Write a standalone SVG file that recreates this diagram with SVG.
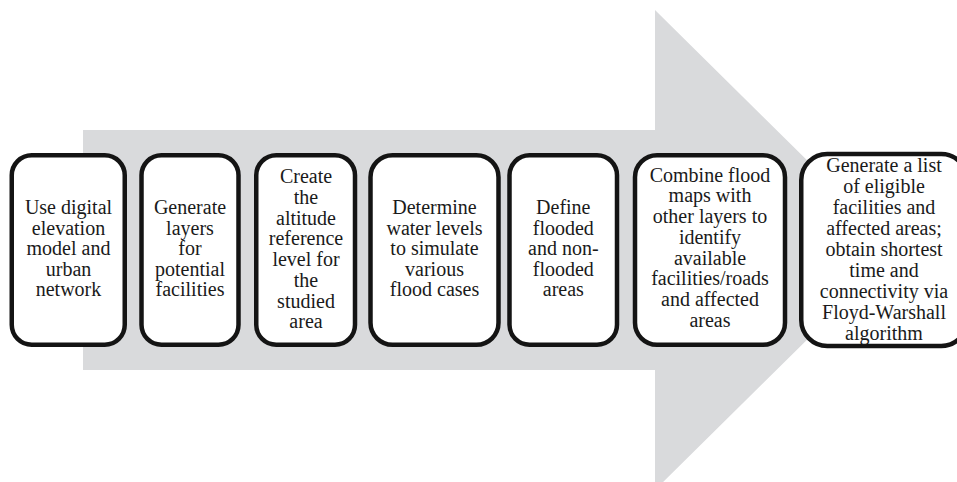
<svg xmlns="http://www.w3.org/2000/svg" width="957" height="482" viewBox="0 0 957 482">
<style>
.box{fill:#ffffff;stroke:#141414;stroke-width:4.5}
.t{font-family:"Liberation Serif","Times New Roman",serif;font-size:20px;fill:#1a1a1a;text-anchor:middle}
</style>
<rect width="957" height="482" fill="#ffffff"/>
<g id="arrow">
<polygon points="83,130 655,130 655,10 898,250 655,490 655,370 83,370" fill="#d9dadc"/>
</g>
<g id="connectors"></g>
<g id="n1">
<rect class="box" x="11.75" y="155.25" width="113" height="189.5" rx="20"/>
<text class="t" x="68.5" y="214">Use digital<tspan x="68.5" dy="20.6">elevation</tspan><tspan x="68.5" dy="20.6">model and</tspan><tspan x="68.5" dy="20.6">urban</tspan><tspan x="68.5" dy="20.6">network</tspan></text>
</g>
<g id="n2">
<rect class="box" x="141.5" y="155.25" width="97" height="189.5" rx="20"/>
<text class="t" x="190" y="214">Generate<tspan x="190" dy="20.6">layers</tspan><tspan x="190" dy="20.6">for</tspan><tspan x="190" dy="20.6">potential</tspan><tspan x="190" dy="20.6">facilities</tspan></text>
</g>
<g id="n3">
<rect class="box" x="256.25" y="155.25" width="98.75" height="189.5" rx="20"/>
<text class="t" x="306" y="183.3">Create<tspan x="306" dy="20.7">the</tspan><tspan x="306" dy="20.7">altitude</tspan><tspan x="306" dy="20.7">reference</tspan><tspan x="306" dy="20.7">level for</tspan><tspan x="306" dy="20.7">the</tspan><tspan x="306" dy="20.7">studied</tspan><tspan x="306" dy="20.7">area</tspan></text>
</g>
<g id="n4">
<rect class="box" x="370.5" y="155.25" width="128" height="189.5" rx="22"/>
<text class="t" x="434.5" y="214">Determine<tspan x="434.5" dy="20.6">water levels</tspan><tspan x="434.5" dy="20.6">to simulate</tspan><tspan x="434.5" dy="20.6">various</tspan><tspan x="434.5" dy="20.6">flood cases</tspan></text>
</g>
<g id="n5">
<rect class="box" x="509.5" y="155.25" width="107.5" height="189.5" rx="20"/>
<text class="t" x="563.3" y="214">Define<tspan x="563.3" dy="20.6">flooded</tspan><tspan x="563.3" dy="20.6">and non-</tspan><tspan x="563.3" dy="20.6">flooded</tspan><tspan x="563.3" dy="20.6">areas</tspan></text>
</g>
<g id="n6">
<rect class="box" x="635" y="155.25" width="150" height="189.5" rx="22"/>
<text class="t" x="710" y="181.7">Combine flood<tspan x="710" dy="20.7">maps with</tspan><tspan x="710" dy="20.7">other layers to</tspan><tspan x="710" dy="20.7">identify</tspan><tspan x="710" dy="20.7">available</tspan><tspan x="710" dy="20.7">facilities/roads</tspan><tspan x="710" dy="20.7">and affected</tspan><tspan x="710" dy="20.7">areas</tspan></text>
</g>
<g id="n7">
<rect class="box" x="801.25" y="154" width="166" height="192" rx="26"/>
<text class="t" x="884" y="171.7">Generate a list<tspan x="884" dy="21">of eligible</tspan><tspan x="884" dy="21">facilities and</tspan><tspan x="884" dy="21">affected areas;</tspan><tspan x="884" dy="21">obtain shortest</tspan><tspan x="884" dy="21">time and</tspan><tspan x="884" dy="21">connectivity via</tspan><tspan x="884" dy="21">Floyd-Warshall</tspan><tspan x="884" dy="21">algorithm</tspan></text>
</g>
</svg>
